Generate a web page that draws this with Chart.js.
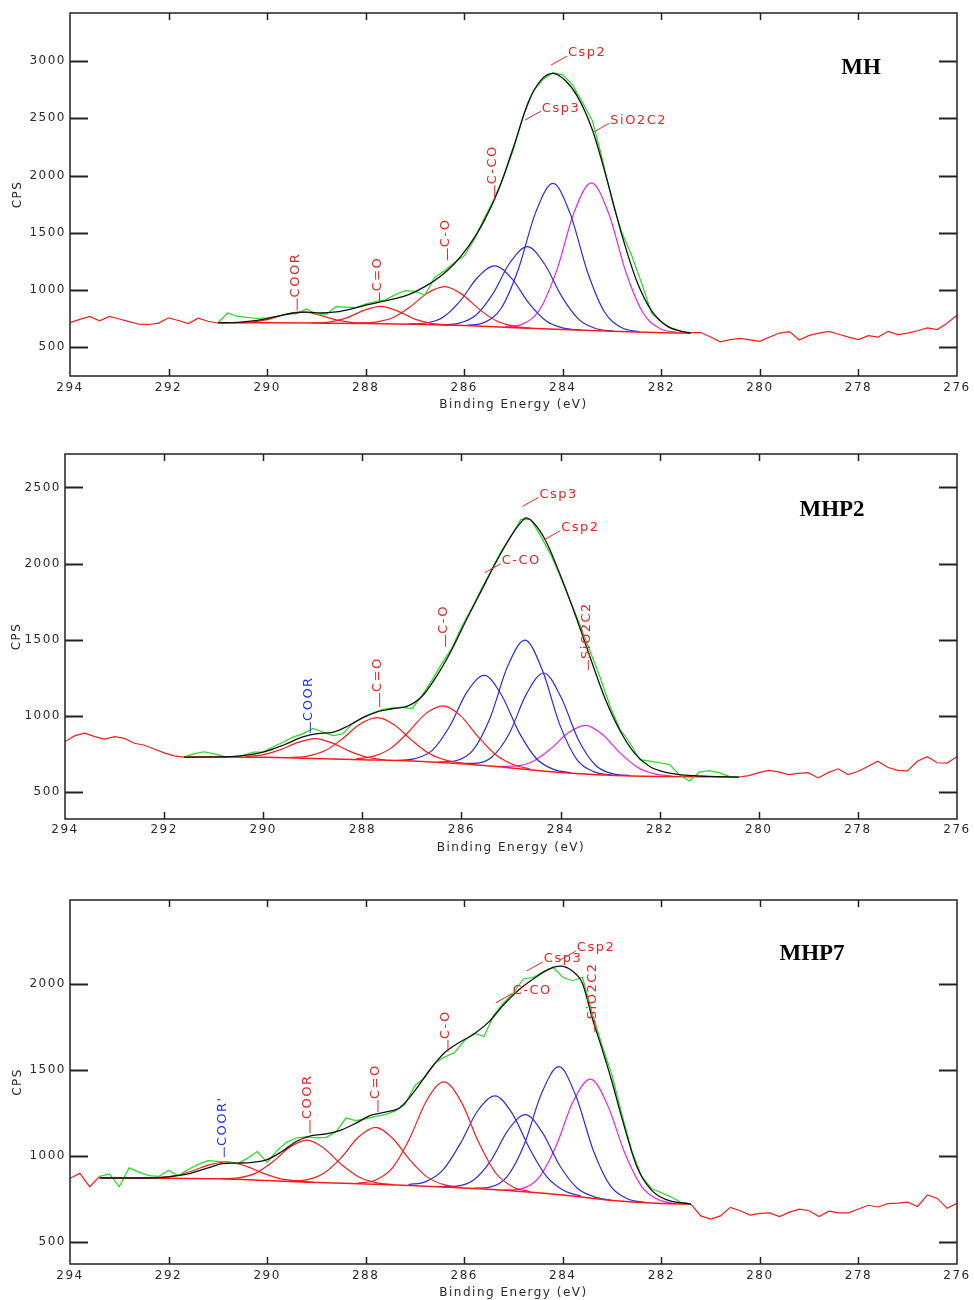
<!DOCTYPE html>
<html>
<head>
<meta charset="utf-8">
<script src="https://cdn.jsdelivr.net/npm/chart.js@4.4.0/dist/chart.umd.min.js"></script>
<style>
html,body{margin:0;padding:0;background:#fff;}
body{width:974px;height:1300px;position:relative;overflow:hidden;}
.panel{position:absolute;left:0;width:974px;}
</style>
</head>
<body>
<div class="panel" style="top:0px;height:420px"><canvas id="c1"></canvas></div>
<div class="panel" style="top:440px;height:425px"><canvas id="c2"></canvas></div>
<div class="panel" style="top:880px;height:420px"><canvas id="c3"></canvas></div>
<script>
// ---------------- DATA ----------------
const xTickValues = [294, 292, 290, 288, 286, 284, 282, 280, 278, 276];

const rawEnergy = [
294.0, 293.8, 293.6, 293.4, 293.2, 293.0, 292.8, 292.6, 292.4, 292.2,
292.0, 291.8, 291.6, 291.4, 291.2, 291.0, 290.8, 290.6, 290.4, 290.2,
290.0, 289.8, 289.6, 289.4, 289.2, 289.0, 288.8, 288.6, 288.4, 288.2,
288.0, 287.8, 287.6, 287.4, 287.2, 287.0, 286.8, 286.6, 286.4, 286.2,
286.0, 285.8, 285.6, 285.4, 285.2, 285.0, 284.8, 284.6, 284.4, 284.2,
284.0, 283.8, 283.6, 283.4, 283.2, 283.0, 282.8, 282.6, 282.4, 282.2,
282.0, 281.8, 281.6, 281.4, 281.2, 281.0, 280.8, 280.6, 280.4, 280.2,
280.0, 279.8, 279.6, 279.4, 279.2, 279.0, 278.8, 278.6, 278.4, 278.2,
278.0, 277.8, 277.6, 277.4, 277.2, 277.0, 276.8, 276.6, 276.4, 276.2,
276.0];

// ---- MH ----
const mhRawCps = [
715, 745, 770, 732, 770, 748, 725, 702, 700, 712,
758, 735, 708, 755, 728, 713, 800, 770, 762, 752,
758, 770, 790, 795, 835, 790, 790, 855, 852, 848,
878, 900, 915, 960, 995, 990, 955, 1110, 1170, 1240,
1300, 1440, 1620, 1790, 1990, 2230, 2520, 2740, 2840, 2900,
2880, 2790, 2640, 2480, 2150, 1780, 1500, 1300, 1060, 800,
720, 670, 640, 628, 630, 590, 548, 568, 578, 565,
553, 590, 625, 638, 565, 605, 625, 640, 615, 590,
568, 603, 590, 640, 612, 625, 645, 670, 655, 710,
780];
const mhFitRange = [281.4, 291.0];
const mhEnvE = [291.0, 290.6, 290.2, 289.8, 289.5, 289.2, 288.9, 288.6, 288.3, 288.0, 287.7, 287.4, 287.1, 286.8, 286.5, 286.2, 285.9, 285.6, 285.3, 285.0, 284.7, 284.45, 284.2, 283.95, 283.7, 283.4, 283.1, 282.8, 282.5, 282.2, 281.9, 281.6, 281.4];
const mhEnvCps = [714, 718, 735, 770, 798, 808, 800, 810, 835, 868, 898, 925, 965, 1030, 1115, 1230, 1390, 1600, 1880, 2250, 2640, 2830, 2892, 2830, 2690, 2400, 1960, 1480, 1080, 820, 690, 640, 625];
const mhBaseE = [291.0, 290.0, 289.0, 288.0, 287.0, 286.0, 285.0, 284.0, 283.0, 282.0, 281.4];
const mhBaseCps = [715, 714, 712, 709, 702, 690, 672, 655, 640, 628, 624];
const mhCoorE = [290.7, 290.35, 290.0, 289.65, 289.3, 288.95, 288.6, 288.25, 287.9];
const mhCoorCps = [714, 719, 742, 785, 811, 784, 740, 716, 710];
const mhCdoE = [289.1, 288.75, 288.4, 288.05, 287.7, 287.35, 287.0, 286.65, 286.3];
const mhCdoCps = [713, 721, 755, 821, 858, 817, 747, 708, 695];
const mhCoE = [288.15, 287.8, 287.45, 287.1, 286.75, 286.4, 286.05, 285.7, 285.35, 285.0, 284.65];
const mhCoCps = [711, 721, 759, 853, 973, 1030, 965, 834, 732, 685, 667];
const mhCcoE = [287.13, 286.78, 286.43, 286.08, 285.73, 285.38, 285.03, 284.68, 284.33, 283.98, 283.63];
const mhCcoCps = [705, 713, 763, 906, 1110, 1212, 1098, 881, 728, 668, 650];
const mhCsp3E = [286.47, 286.12, 285.77, 285.42, 285.07, 284.72, 284.37, 284.02, 283.67, 283.32, 282.97];
const mhCsp3Cps = [697, 710, 778, 967, 1241, 1379, 1228, 943, 742, 663, 642];
const mhCsp2E = [285.95, 285.6, 285.25, 284.9, 284.55, 284.2, 283.85, 283.5, 283.15, 282.8, 282.45];
const mhCsp2Cps = [692, 716, 842, 1185, 1679, 1932, 1668, 1161, 807, 671, 637];
const mhSiE = [285.17, 284.82, 284.47, 284.12, 283.77, 283.42, 283.07, 282.72, 282.37, 282.02, 281.67];
const mhSiCps = [680, 703, 829, 1177, 1680, 1937, 1671, 1158, 800, 663, 630];

// ---- MHP2 ----
const mhp2RawCps = [
829, 868, 884, 862, 845, 862, 850, 818, 805, 780,
755, 735, 727, 748, 762, 750, 732, 730, 738, 760,
762, 795, 825, 858, 880, 915, 892, 868, 880, 945,
985, 1015, 1040, 1050, 1055, 1045, 1130, 1230, 1340, 1440,
1580, 1700, 1830, 1955, 2080, 2180, 2290, 2290, 2180, 2060,
1910, 1750, 1590, 1420, 1250, 1060, 910, 820, 710, 700,
690, 678, 610, 570, 628, 638, 625, 600, 596, 605,
625, 640, 630, 612, 620, 625, 590, 625, 650, 612,
632, 665, 700, 660, 640, 636, 700, 730, 690, 688,
730];
const mhp2FitRange = [280.4, 291.6];
const mhp2EnvE = [291.6, 291.0, 290.5, 290.0, 289.6, 289.2, 288.9, 288.6, 288.3, 288.0, 287.7, 287.4, 287.1, 286.8, 286.5, 286.2, 285.9, 285.6, 285.3, 285.0, 284.8, 284.7, 284.55, 284.3, 284.0, 283.7, 283.4, 283.1, 282.8, 282.5, 282.2, 281.9, 281.5, 281.0, 280.4];
const mhp2EnvCps = [727, 728, 733, 760, 805, 860, 882, 890, 930, 985, 1025, 1045, 1060, 1125, 1260, 1430, 1630, 1820, 2010, 2180, 2270, 2300, 2270, 2150, 1920, 1660, 1380, 1110, 900, 750, 665, 628, 608, 600, 596];
const mhp2BaseE = [291.6, 290.0, 289.0, 288.0, 287.0, 286.0, 285.0, 284.0, 283.0, 282.0, 281.0, 280.4];
const mhp2BaseCps = [727, 726, 718, 710, 702, 684, 656, 626, 608, 600, 597, 596];
const mhp2CoorE = [290.35, 290.0, 289.65, 289.3, 288.95, 288.6, 288.25, 287.9, 287.55];
const mhp2CoorCps = [730, 743, 776, 824, 849, 819, 765, 726, 709];
const mhp2CdoE = [289.45, 289.1, 288.75, 288.4, 288.05, 287.7, 287.35, 287.0, 286.65, 286.3, 285.95];
const mhp2CdoCps = [725, 734, 770, 848, 943, 986, 938, 837, 750, 705, 686];
const mhp2CoE = [288.12, 287.77, 287.42, 287.07, 286.72, 286.37, 286.02, 285.67, 285.32, 284.97, 284.62];
const mhp2CoCps = [716, 733, 786, 892, 1013, 1064, 1000, 863, 746, 680, 649];
const mhp2CcoE = [287.29, 286.94, 286.59, 286.24, 285.89, 285.54, 285.19, 284.84, 284.49, 284.14, 283.79];
const mhp2CcoCps = [706, 717, 771, 928, 1154, 1264, 1134, 891, 718, 646, 624];
const mhp2Csp3E = [286.47, 286.12, 285.77, 285.42, 285.07, 284.72, 284.37, 284.02, 283.67, 283.32, 282.97];
const mhp2Csp3Cps = [694, 703, 771, 986, 1322, 1496, 1301, 944, 711, 630, 610];
const mhp2Csp2E = [286.09, 285.74, 285.39, 285.04, 284.69, 284.34, 283.99, 283.64, 283.29, 282.94, 282.59];
const mhp2Csp2Cps = [687, 686, 726, 879, 1141, 1280, 1120, 841, 672, 617, 606];
const mhp2SiE = [285.25, 284.9, 284.55, 284.2, 283.85, 283.5, 283.15, 282.8, 282.45, 282.1, 281.75];
const mhp2SiCps = [666, 669, 700, 781, 885, 935, 874, 755, 661, 617, 602];

// ---- MHP7 ----
const mhp7RawCps = [
869, 898, 820, 880, 895, 820, 930, 905, 885, 880,
915, 885, 920, 950, 972, 968, 966, 955, 985, 1025,
962, 1030, 1080, 1105, 1110, 1105, 1108, 1140, 1220, 1205,
1215, 1230, 1240, 1262, 1300, 1410, 1455, 1540, 1575, 1600,
1670, 1715, 1695, 1820, 1890, 1950, 2030, 2040, 2070, 2100,
2040, 2020, 2040, 1830, 1640, 1470, 1240, 1030, 880, 810,
785, 760, 728, 719, 650, 632, 650, 700, 680, 655,
665, 668, 646, 672, 690, 680, 646, 678, 668, 668,
690, 712, 702, 722, 725, 730, 705, 772, 752, 694,
723];
const mhp7FitRange = [281.4, 293.4];
const mhp7EnvE = [293.4, 292.5, 292.0, 291.6, 291.2, 290.9, 290.6, 290.3, 290.0, 289.7, 289.4, 289.1, 288.8, 288.5, 288.2, 287.9, 287.6, 287.3, 287.0, 286.7, 286.4, 286.1, 285.8, 285.5, 285.2, 284.9, 284.6, 284.3, 284.05, 283.8, 283.6, 283.4, 283.2, 283.0, 282.8, 282.5, 282.2, 281.9, 281.4];
const mhp7EnvCps = [871, 871, 878, 895, 930, 955, 958, 962, 978, 1025, 1085, 1118, 1128, 1150, 1190, 1235, 1255, 1282, 1380, 1500, 1600, 1660, 1710, 1780, 1880, 1965, 2030, 2085, 2105, 2075, 2004, 1800, 1620, 1430, 1220, 940, 800, 745, 719];
const mhp7BaseE = [293.4, 292.0, 291.0, 290.0, 289.0, 288.0, 287.0, 286.0, 285.0, 284.0, 283.0, 282.0, 281.4];
const mhp7BaseCps = [872, 870, 866, 856, 845, 836, 826, 812, 795, 772, 740, 722, 719];
const mhp7Coor2E = [292.56, 292.21, 291.86, 291.51, 291.16, 290.81, 290.46, 290.11, 289.76, 289.41, 289.06];
const mhp7Coor2Cps = [871, 874, 885, 913, 949, 964, 943, 902, 869, 854, 847];
const mhp7CoorE = [290.94, 290.59, 290.24, 289.89, 289.54, 289.19, 288.84, 288.49, 288.14, 287.79, 287.44];
const mhp7CoorCps = [867, 872, 898, 964, 1050, 1091, 1043, 949, 877, 844, 832];
const mhp7CdoE = [289.55, 289.2, 288.85, 288.5, 288.15, 287.8, 287.45, 287.1, 286.75, 286.4, 286.05];
const mhp7CdoCps = [853, 860, 898, 988, 1108, 1166, 1101, 975, 876, 831, 815];
const mhp7CoE = [288.16, 287.81, 287.46, 287.11, 286.76, 286.41, 286.06, 285.71, 285.36, 285.01, 284.66];
const mhp7CoCps = [841, 858, 929, 1100, 1324, 1431, 1314, 1080, 900, 819, 791];
const mhp7CcoE = [287.13, 286.78, 286.43, 286.08, 285.73, 285.38, 285.03, 284.68, 284.33, 283.98, 283.63];
const mhp7CcoCps = [832, 850, 918, 1071, 1261, 1349, 1249, 1046, 880, 798, 765];
const mhp7Csp3E = [286.51, 286.16, 285.81, 285.46, 285.11, 284.76, 284.41, 284.06, 283.71, 283.36, 283.01];
const mhp7Csp3Cps = [820, 823, 859, 972, 1150, 1240, 1134, 942, 813, 761, 741];
const mhp7Csp2E = [285.83, 285.48, 285.13, 284.78, 284.43, 284.08, 283.73, 283.38, 283.03, 282.68, 282.33];
const mhp7Csp2Cps = [811, 818, 879, 1068, 1365, 1519, 1346, 1031, 823, 749, 729];
const mhp7SiE = [285.19, 284.84, 284.49, 284.14, 283.79, 283.44, 283.09, 282.74, 282.39, 282.04, 281.69];
const mhp7SiCps = [800, 809, 872, 1055, 1316, 1447, 1295, 1015, 818, 742, 722];

// ---------------- STYLE / LAYOUT ----------------
const RED = '#ff1a1a', GREEN = '#22dd22', BLUE = '#2a2aee', MAGENTA = '#ee22ee', BLACK = '#111111';
const LBL_RED = '#ee2222', LBL_BLUE = '#2233ee';

Chart.defaults.font.family = '"DejaVu Sans", sans-serif';
Chart.defaults.font.size = 12;
Chart.defaults.color = '#2a2a2a';

function pts(E, C) { return E.map((e, i) => ({x: e, y: C[i]})); }
function curve(label, E, C, color, width) {
  return {label, data: pts(E, C), borderColor: color, borderWidth: width || 1.2,
    pointRadius: 0, fill: false, cubicInterpolationMode: 'monotone'};
}
function rawSet(C, range) {
  return {label: 'raw', data: pts(rawEnergy, C), borderColor: RED, borderWidth: 1.2,
    pointRadius: 0, fill: false, tension: 0,
    segment: {borderColor: ctx => {
      const a = rawEnergy[ctx.p0DataIndex], b = rawEnergy[ctx.p1DataIndex];
      return (a <= range[1] + 1e-6 && a >= range[0] - 1e-6 && b <= range[1] + 1e-6 && b >= range[0] - 1e-6) ? GREEN : RED;
    }}};
}

const xpsPlugin = {
  id: 'xps',
  beforeDraw(chart) { chart.ctx.letterSpacing = '1.5px'; },
  afterDatasetsDraw(chart, args, opts) {
    const {ctx, chartArea: a, scales: {x, y}} = chart;
    ctx.save();
    ctx.letterSpacing = '0px';
    ctx.strokeStyle = '#222';
    ctx.lineWidth = 1.5;
    ctx.strokeRect(a.left, a.top, a.right - a.left, a.bottom - a.top);
    const line = (x1, y1, x2, y2) => { ctx.beginPath(); ctx.moveTo(x1, y1); ctx.lineTo(x2, y2); ctx.stroke(); };
    ctx.lineWidth = 2;
    y.ticks.forEach(t => {
      const py = Math.round(y.getPixelForValue(t.value)) + 0.5;
      line(a.left, py, a.left + 18, py);
      line(a.right, py, a.right - 18, py);
    });
    ctx.lineWidth = 1.5;
    x.ticks.forEach(t => {
      if (t.value === x.min || t.value === x.max) return;
      const px = Math.round(x.getPixelForValue(t.value)) + 0.5;
      line(px, a.top, px, a.top + 7);
      line(px, a.bottom, px, a.bottom - 7);
    });
    // peak labels
    ctx.font = '13px "DejaVu Sans", sans-serif';
    ctx.letterSpacing = '1.5px';
    ctx.lineWidth = 1;
    (opts.labels || []).forEach(it => {
      const px = x.getPixelForValue(it.e), py = y.getPixelForValue(it.cps);
      ctx.strokeStyle = it.color; ctx.fillStyle = it.color;
      if (it.vertical) {
        const top = py - it.len;
        line(px, py, px, top);
        ctx.save();
        ctx.translate(px + 1.5, top - 1);
        ctx.rotate(-Math.PI / 2);
        ctx.textAlign = 'left'; ctx.textBaseline = 'alphabetic';
        ctx.fillText(it.text, 0, 0);
        ctx.restore();
      } else {
        const ex = px + 16, ey = py - 9;
        line(px, py, ex, ey);
        ctx.textAlign = 'left'; ctx.textBaseline = 'middle';
        ctx.fillText(it.text, ex + 1, ey - 3);
      }
    });
    // sample name
    if (opts.title) {
      ctx.letterSpacing = '0px';
      ctx.font = 'bold 23px "Liberation Serif", "Times New Roman", serif';
      ctx.fillStyle = '#000';
      ctx.textAlign = 'center'; ctx.textBaseline = 'middle';
      ctx.fillText(opts.title.text, a.right + opts.title.dx, a.top + opts.title.dy);
    }
    ctx.restore();
  }
};

function makePanel(id, cfg) {
  return new Chart(document.getElementById(id), {
    type: 'line',
    data: {datasets: cfg.datasets},
    options: {
      responsive: true, maintainAspectRatio: false, animation: false,
      layout: {padding: {left: 0, right: 974 - cfg.right, top: cfg.top, bottom: 0}},
      plugins: {legend: {display: false}, tooltip: {enabled: false},
        xps: {labels: cfg.labels, title: cfg.title}},
      scales: {
        x: {type: 'linear', reverse: true, min: 276, max: 294,
          afterBuildTicks: s => { s.ticks = xTickValues.map(v => ({value: v})); },
          ticks: {padding: cfg.xTickPad, maxRotation: 0, autoSkip: false, callback: v => String(v)},
          grid: {display: false, drawTicks: false}, border: {display: false},
          title: {display: true, text: 'Binding Energy (eV)', padding: {top: 0, bottom: cfg.xTitlePad}},
          afterFit: s => { s.height = cfg.xHeight; }},
        y: {type: 'linear', min: cfg.yMin, max: cfg.yMax,
          afterBuildTicks: s => { s.ticks = cfg.yTicks.map(v => ({value: v})); },
          ticks: {padding: 4, callback: v => String(v)},
          grid: {display: false, drawTicks: false}, border: {display: false},
          title: {display: true, text: 'CPS', padding: {top: cfg.yTitlePad, bottom: 0}},
          afterFit: s => { s.width = cfg.left; }}
      }
    },
    plugins: [xpsPlugin]
  });
}

makePanel('c1', {
  left: 70, right: 957, top: 13, xHeight: 44, xTickPad: 5, xTitlePad: 8, yTitlePad: 11,
  yMin: 250, yMax: 3420, yTicks: [500, 1000, 1500, 2000, 2500, 3000],
  title: {text: 'MH', dx: -96, dy: 55},
  datasets: [
    curve('envelope', mhEnvE, mhEnvCps, BLACK, 1.3),
    rawSet(mhRawCps, mhFitRange),
    curve('background', mhBaseE, mhBaseCps, RED, 1.5),
    curve('COOR', mhCoorE, mhCoorCps, RED),
    curve('C=O', mhCdoE, mhCdoCps, RED),
    curve('C-O', mhCoE, mhCoCps, RED),
    curve('C-CO', mhCcoE, mhCcoCps, BLUE),
    curve('Csp3', mhCsp3E, mhCsp3Cps, BLUE),
    curve('Csp2', mhCsp2E, mhCsp2Cps, BLUE),
    curve('SiO2C2', mhSiE, mhSiCps, MAGENTA)
  ],
  labels: [
    {text: 'COOR', e: 289.39, cps: 823, vertical: true, len: 12, color: LBL_RED},
    {text: 'C=O', e: 287.72, cps: 893, vertical: true, len: 10, color: LBL_RED},
    {text: 'C-O', e: 286.34, cps: 1260, vertical: true, len: 12, color: LBL_RED},
    {text: 'C-CO', e: 285.38, cps: 1785, vertical: true, len: 15, color: LBL_RED},
    {text: 'Csp3', e: 284.77, cps: 2484, vertical: false, color: LBL_RED},
    {text: 'Csp2', e: 284.24, cps: 2965, vertical: false, color: LBL_RED},
    {text: 'SiO2C2', e: 283.38, cps: 2379, vertical: false, color: LBL_RED}
  ]
});

makePanel('c2', {
  left: 65, right: 957, top: 14, xHeight: 46, xTickPad: 4, xTitlePad: 10, yTitlePad: 10,
  yMin: 320, yMax: 2720, yTicks: [500, 1000, 1500, 2000, 2500],
  title: {text: 'MHP2', dx: -125, dy: 56},
  datasets: [
    curve('envelope', mhp2EnvE, mhp2EnvCps, BLACK, 1.3),
    rawSet(mhp2RawCps, mhp2FitRange),
    curve('background', mhp2BaseE, mhp2BaseCps, RED, 1.5),
    curve('COOR', mhp2CoorE, mhp2CoorCps, RED),
    curve('C=O', mhp2CdoE, mhp2CdoCps, RED),
    curve('C-O', mhp2CoE, mhp2CoCps, RED),
    curve('C-CO', mhp2CcoE, mhp2CcoCps, BLUE),
    curve('Csp3', mhp2Csp3E, mhp2Csp3Cps, BLUE),
    curve('Csp2', mhp2Csp2E, mhp2Csp2Cps, BLUE),
    curve('SiO2C2', mhp2SiE, mhp2SiCps, MAGENTA)
  ],
  labels: [
    {text: 'COOR', e: 289.05, cps: 886, vertical: true, len: 11, color: LBL_BLUE},
    {text: 'C=O', e: 287.65, cps: 1057, vertical: true, len: 14, color: LBL_RED},
    {text: 'C-O', e: 286.32, cps: 1452, vertical: true, len: 12, color: LBL_RED},
    {text: 'C-CO', e: 285.53, cps: 1939, vertical: false, color: LBL_RED},
    {text: 'Csp3', e: 284.77, cps: 2375, vertical: false, color: LBL_RED},
    {text: 'Csp2', e: 284.33, cps: 2156, vertical: false, color: LBL_RED},
    {text: 'SiO2C2', e: 283.44, cps: 1300, vertical: true, len: 10, color: LBL_RED}
  ]
});

makePanel('c3', {
  left: 70, right: 957, top: 20, xHeight: 36, xTickPad: 5, xTitlePad: 0, yTitlePad: 11,
  yMin: 370, yMax: 2490, yTicks: [500, 1000, 1500, 2000],
  title: {text: 'MHP7', dx: -145, dy: 54},
  datasets: [
    curve('envelope', mhp7EnvE, mhp7EnvCps, BLACK, 1.3),
    rawSet(mhp7RawCps, mhp7FitRange),
    curve('background', mhp7BaseE, mhp7BaseCps, RED, 1.5),
    curve("COOR'", mhp7Coor2E, mhp7Coor2Cps, RED),
    curve('COOR', mhp7CoorE, mhp7CoorCps, RED),
    curve('C=O', mhp7CdoE, mhp7CdoCps, RED),
    curve('C-O', mhp7CoE, mhp7CoCps, RED),
    curve('C-CO', mhp7CcoE, mhp7CcoCps, BLUE),
    curve('Csp3', mhp7Csp3E, mhp7Csp3Cps, BLUE),
    curve('Csp2', mhp7Csp2E, mhp7Csp2Cps, BLUE),
    curve('SiO2C2', mhp7SiE, mhp7SiCps, MAGENTA)
  ],
  labels: [
    {text: "COOR'", e: 290.87, cps: 993, vertical: true, len: 10, color: LBL_BLUE},
    {text: 'COOR', e: 289.13, cps: 1133, vertical: true, len: 13, color: LBL_RED},
    {text: 'C=O', e: 287.75, cps: 1255, vertical: true, len: 12, color: LBL_RED},
    {text: 'C-O', e: 286.33, cps: 1604, vertical: true, len: 12, color: LBL_RED},
    {text: 'C-CO', e: 285.36, cps: 1891, vertical: false, color: LBL_RED},
    {text: 'Csp3', e: 284.73, cps: 2077, vertical: false, color: LBL_RED},
    {text: 'Csp2', e: 284.06, cps: 2140, vertical: false, color: LBL_RED},
    {text: 'SiO2C2', e: 283.35, cps: 1720, vertical: true, len: 12, color: LBL_RED}
  ]
});
</script>
</body>
</html>
